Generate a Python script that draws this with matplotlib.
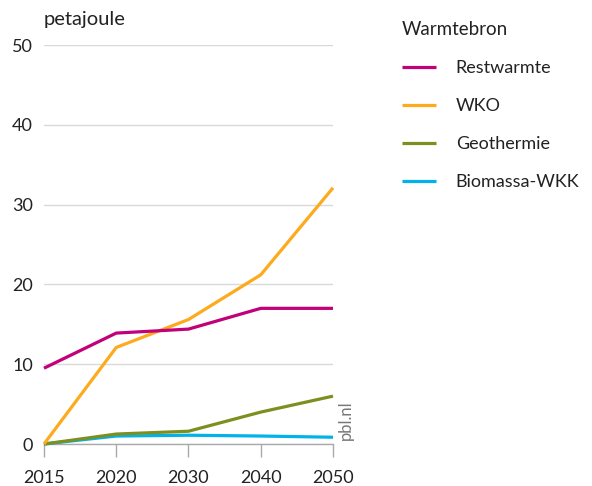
import matplotlib.pyplot as plt
import numpy as np

plt.rcParams['font.family'] = ['Lato', 'DejaVu Sans']

years = ['2015', '2020', '2030', '2040', '2050']
restwarmte = [9.5, 13.9, 14.4, 17.0, 17.0]
wko = [0.0, 12.1, 15.6, 21.2, 32.1]
geothermie = [0.0, 1.25, 1.6, 4.0, 6.0]
biomassa = [0.0, 1.0, 1.1, 1.0, 0.85]

series = [
    ('Restwarmte', restwarmte, '#c1007a'),
    ('WKO', wko, '#fdaa1c'),
    ('Geothermie', geothermie, '#7d8f1e'),
    ('Biomassa-WKK', biomassa, '#00b1ea'),
]

fig = plt.figure(figsize=(5.92, 4.86), dpi=100)
ax = fig.add_axes([0.0743, 0.0864, 0.4882, 0.821])

x = np.arange(len(years))
handles = []
# draw bottom series first so top lines overlap them
for name, vals, col in reversed(series):
    h, = ax.plot(x, vals, color=col, lw=2.3, label=name, clip_on=False,
                 solid_capstyle='butt', zorder=3)
    handles.append(h)
handles = handles[::-1]

ax.set_xlim(0, 4)
ax.set_ylim(0, 50)
ax.set_yticks(range(0, 51, 10))
ax.set_xticks(x)
ax.set_xticklabels(years)
ax.grid(axis='y', color='#d9d9d9', lw=1)
ax.set_axisbelow(True)
for s in ['top', 'right', 'left']:
    ax.spines[s].set_visible(False)
ax.spines['bottom'].set_color('#aaaaaa')
ax.spines['bottom'].set_linewidth(1)
ax.tick_params(axis='y', length=0, pad=8, labelsize=13, labelcolor='#222222')
ax.tick_params(axis='x', length=9.5, width=1, color='#aaaaaa', pad=9,
               labelsize=13, labelcolor='#222222')

fig.text(0.0743, 0.959, 'petajoule', fontsize=14.5, color='#222222', va='center')
fig.text(0.584, 0.095, 'pbl.nl', rotation=90, fontsize=12, color='#777777',
         va='bottom', ha='center')

leg = fig.legend(handles=handles, loc='upper left', bbox_to_anchor=(0.651, 0.99),
                 frameon=False, title='Warmtebron', fontsize=13,
                 title_fontsize=13.5, handlelength=1.9, handletextpad=1.1,
                 labelspacing=1.22, alignment='left')
for t in leg.get_texts():
    t.set_color('#222222')
leg.get_title().set_color('#222222')

fig.savefig('out.png', dpi=100)
